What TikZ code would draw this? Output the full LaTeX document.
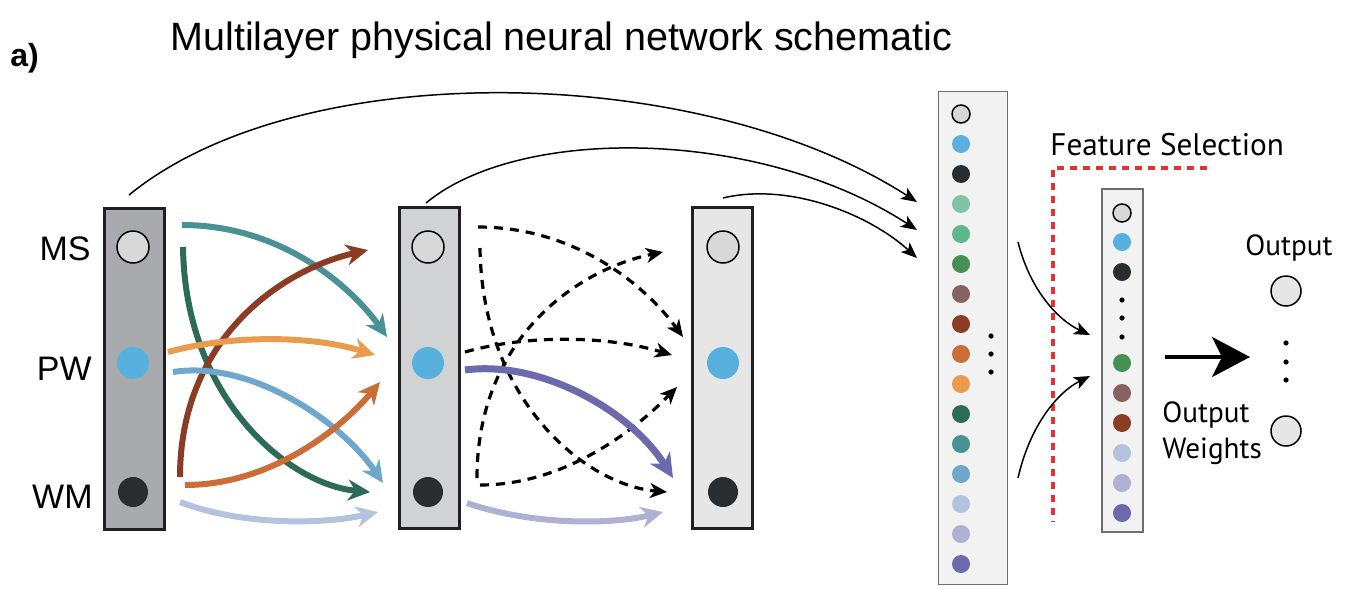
\documentclass[tikz,border=0pt]{standalone}
\usepackage{fontspec}
\setmainfont{Liberation Sans}
\newfontfamily\myriad{PT Sans}
\usetikzlibrary{arrows.meta}
\definecolor{boxline}{HTML}{231F20}
\definecolor{lay1}{HTML}{A9AAAD}
\definecolor{lay2}{HTML}{D1D2D4}
\definecolor{lay3}{HTML}{E6E6E6}
\definecolor{colfill}{HTML}{F2F2F2}
\definecolor{colline}{HTML}{6D6E71}
\definecolor{cms}{HTML}{D8D8D8}
\definecolor{cpw}{HTML}{58B0DF}
\definecolor{cwm}{HTML}{2A2D30}
\definecolor{cgA}{HTML}{7FC4A8}
\definecolor{cgB}{HTML}{5CB88A}
\definecolor{cgC}{HTML}{468F55}
\definecolor{cbrA}{HTML}{866263}
\definecolor{cbrB}{HTML}{8B3C25}
\definecolor{corB}{HTML}{CC6D38}
\definecolor{corA}{HTML}{EB9B4C}
\definecolor{cdg}{HTML}{2D6B59}
\definecolor{cteal}{HTML}{4A9195}
\definecolor{cbl}{HTML}{6EA6CC}
\definecolor{clavA}{HTML}{B3C2DF}
\definecolor{clavB}{HTML}{AEB1D4}
\definecolor{cpur}{HTML}{6C6AAC}
\definecolor{fsred}{HTML}{E23333}
\definecolor{outfill}{HTML}{E6E6E6}
\begin{document}
\begin{tikzpicture}[x=0.5pt,y=-0.5pt,
  layerbox/.style={draw=boxline, line width=1.5pt, minimum width=30pt, minimum height=160.5pt, inner sep=0pt},
  bigdot/.style={circle, inner sep=0pt, minimum size=16pt},
  smalldot/.style={circle, inner sep=0pt, minimum size=9pt},
  tinydot/.style={circle, fill=black, inner sep=0pt, minimum size=2.6pt},
  carrow/.style={line width=3pt, -{Stealth[length=11pt,width=10.5pt,inset=3.5pt]}},
  parrow/.style={line width=3.5pt, -{Stealth[length=12pt,width=11.5pt,inset=3.5pt]}},
  darrow/.style={line width=1.6pt, dash pattern=on 4.5pt off 3.5pt, -{Stealth[length=8.5pt,width=7.5pt,inset=2.5pt]}},
  tarrow/.style={line width=0.75pt, -{Stealth[length=8pt,width=6.5pt,inset=2pt]}},
  lbl/.style={inner sep=0pt, font=\fontsize{17pt}{20pt}\selectfont},
  mlbl/.style={inner sep=0pt, font=\myriad\fontsize{14.6pt}{17pt}\selectfont}
]
\useasboundingbox (0,0) rectangle (1352,589);

% title
\node[anchor=base west, inner sep=0pt, font=\fontsize{19.75pt}{22pt}\selectfont] (title) at (170,50) {Multilayer physical neural network schematic};
\node[anchor=base west, inner sep=0pt, font=\bfseries\fontsize{16pt}{18pt}\selectfont] (panel) at (10,66) {a)};

% layers
\node[layerbox, fill=lay1] (L1) at (134,369) {};
\node[layerbox, fill=lay2] (L2) at (429,368) {};
\node[layerbox, fill=lay3] (L3) at (722,368) {};
\foreach \L/\x in {1/133,2/428,3/723}{
  \node[bigdot, fill=cms, draw=black, line width=0.75pt] (m\L) at (\x,247) {};
  \node[bigdot, fill=cpw] (p\L) at (\x,363) {};
  \node[bigdot, fill=cwm, minimum size=15pt] (w\L) at (\x,492) {};
}
\node[lbl, anchor=base east] (ms) at (91,260) {MS};
\node[lbl, anchor=base east] (pw) at (92,380) {PW};
\node[lbl, anchor=base east] (wm) at (93,508) {WM};

% layer 1 -> 2 connectors
\coordinate (a1s) at (182,225); \coordinate (a1e) at (387,337);
\coordinate (a2s) at (183,247); \coordinate (a2e) at (370,492);
\coordinate (a3s) at (180,477); \coordinate (a3e) at (368,250);
\coordinate (a4s) at (168,352); \coordinate (a4e) at (375,355);
\coordinate (a5s) at (173,372); \coordinate (a5e) at (383,483);
\coordinate (a6s) at (185,485); \coordinate (a6e) at (380,382);
\coordinate (a7s) at (180,502); \coordinate (a7e) at (378,512);
\draw[carrow, cteal] (a1s) .. controls (280,225) and (350,285) .. (a1e);
\draw[carrow, cdg] (a2s) .. controls (185,400) and (290,485) .. (a2e);
\draw[carrow, cbrB] (a3s) .. controls (180,340) and (280,270) .. (a3e);
\draw[carrow, corA] (a4s) .. controls (230,335) and (310,335) .. (a4e);
\draw[carrow, cbl] (a5s) .. controls (250,360) and (340,420) .. (a5e);
\draw[carrow, corB] (a6s) .. controls (270,485) and (340,430) .. (a6e);
\draw[carrow, clavA] (a7s) .. controls (240,525) and (320,525) .. (a7e);

% layer 2 -> 3 connectors
\coordinate (b1s) at (478,227); \coordinate (b1e) at (683,337);
\coordinate (b2s) at (480,248); \coordinate (b2e) at (667,492);
\coordinate (b3s) at (477,478); \coordinate (b3e) at (663,252);
\coordinate (b4s) at (465,352); \coordinate (b4e) at (672,355);
\coordinate (b5s) at (480,485); \coordinate (b5e) at (677,387);
\coordinate (b6s) at (465,370); \coordinate (b6e) at (673,478);
\coordinate (b7s) at (467,503); \coordinate (b7e) at (663,512);
\draw[darrow] (b1s) .. controls (575,227) and (645,285) .. (b1e);
\draw[darrow] (b2s) .. controls (482,400) and (585,485) .. (b2e);
\draw[darrow] (b3s) .. controls (477,340) and (575,270) .. (b3e);
\draw[darrow] (b4s) .. controls (525,335) and (605,335) .. (b4e);
\draw[darrow] (b5s) .. controls (565,485) and (635,430) .. (b5e);
\draw[parrow, cpur] (b6s) .. controls (540,360) and (630,410) .. (b6e);
\draw[carrow, clavB] (b7s) .. controls (530,525) and (610,525) .. (b7e);

% big feature column
\node[draw=colline, line width=0.5pt, fill=colfill, minimum width=34.5pt, minimum height=246.5pt, inner sep=0pt] (F) at (972.5,337.5) {};
\node[smalldot, fill=cms, draw=black, line width=0.75pt] (f1) at (961,114) {};
\foreach \c [count=\i from 2] in {cpw,cwm,cgA,cgB,cgC,cbrA,cbrB,corB,corA,cdg,cteal,cbl,clavA,clavB,cpur}{
  \node[smalldot, fill=\c] (f\i) at (961,84+30*\i) {};
}
\node[tinydot] (fd1) at (991,336) {};
\node[tinydot] (fd2) at (991,354) {};
\node[tinydot] (fd3) at (991,372) {};

% skip connections
\coordinate (s1s) at (129,195); \coordinate (s1e) at (917,202);
\coordinate (s2s) at (426,203); \coordinate (s2e) at (917,230);
\coordinate (s3s) at (723,198); \coordinate (s3e) at (917,258);
\draw[tarrow] (s1s) .. controls (300,55) and (700,62) .. (s1e);
\draw[tarrow] (s2s) .. controls (520,125) and (760,128) .. (s2e);
\draw[tarrow] (s3s) .. controls (790,182) and (870,215) .. (s3e);

% feature selection
\node[mlbl, anchor=base west, font=\myriad\fontsize{15.6pt}{18pt}\selectfont] (fs) at (1050,155) {Feature Selection};
\coordinate (r1) at (1207,168); \coordinate (r2) at (1053,168); \coordinate (r3) at (1053,522);
\draw[fsred, line width=2pt, dash pattern=on 3.5pt off 3pt] (r1) -- (r2) -- (r3);

\node[draw=colline, line width=0.6pt, fill=colfill, minimum width=20.5pt, minimum height=171.5pt, inner sep=0pt] (S) at (1122.5,360.5) {};
\node[smalldot, fill=cms, draw=black, line width=0.75pt] (g1) at (1122,213) {};
\node[smalldot, fill=cpw] (g2) at (1122,242) {};
\node[smalldot, fill=cwm] (g3) at (1122,272) {};
\node[tinydot] (gd1) at (1122,300) {};
\node[tinydot] (gd2) at (1122,318) {};
\node[tinydot] (gd3) at (1122,337) {};
\foreach \c [count=\i from 0] in {cgC,cbrA,cbrB,clavA,clavB,cpur}{
  \node[smalldot, fill=\c] (h\i) at (1122,363+30*\i) {};
}
\coordinate (i1s) at (1018,242); \coordinate (i1e) at (1090,335);
\coordinate (i2s) at (1018,478); \coordinate (i2e) at (1090,376);
\draw[tarrow] (i1s) .. controls (1030,290) and (1058,320) .. (i1e);
\draw[tarrow] (i2s) .. controls (1030,425) and (1058,392) .. (i2e);

% output
\coordinate (o1) at (1165,357); \coordinate (o2) at (1250,357);
\draw[line width=2pt, -{Stealth[length=19pt,width=20pt,inset=5pt]}] (o1) -- (o2);
\node[circle, draw=black, line width=0.75pt, fill=outfill, minimum size=15pt, inner sep=0pt] (out1) at (1286,291) {};
\node[circle, draw=black, line width=0.75pt, fill=outfill, minimum size=15pt, inner sep=0pt] (out2) at (1286,431) {};
\node[tinydot] (od1) at (1286,343) {};
\node[tinydot] (od2) at (1286,362) {};
\node[tinydot] (od3) at (1286,380) {};
\node[mlbl, anchor=base west] (outlbl) at (1245,255) {Output};
\node[mlbl, anchor=base west] (ow1) at (1162,422) {Output};
\node[mlbl, anchor=base west] (ow2) at (1162,458) {Weights};
\end{tikzpicture}
\end{document}
